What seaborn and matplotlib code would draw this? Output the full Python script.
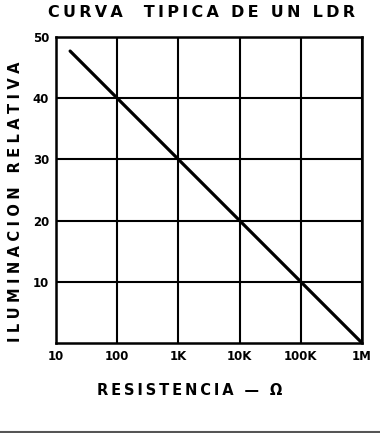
import matplotlib
matplotlib.use("Agg")
import matplotlib.pyplot as plt
import seaborn as sns
import pandas as pd
from matplotlib.lines import Line2D

# Data
resistance = [17, 100, 1000, 10000, 100000, 1000000]
illumination = [47.7, 40, 30, 20, 10, 0]
x_ticks = [10, 100, 1000, 10000, 100000, 1000000]
x_tick_labels = ["10", "100", "1K", "10K", "100K", "1M"]
y_ticks = [10, 20, 30, 40, 50]
y_tick_labels = ["10", "20", "30", "40", "50"]

title = "CURVA  TIPICA DE UN LDR"
xlabel = "RESISTENCIA — Ω"
ylabel = "ILUMINACION RELATIVA"

def spaced(s, sp="\u2009"):
    return sp.join(list(s))

sns.set_theme(style="white")
plt.rcParams['font.family'] = ['DejaVu Sans']
plt.rcParams['text.color'] = 'black'
plt.rcParams['xtick.color'] = 'black'
plt.rcParams['ytick.color'] = 'black'

fig = plt.figure(figsize=(3.8, 4.33), dpi=100)
ax = fig.add_axes([0.1474, 0.2079, 0.8053, 0.7067])

df = pd.DataFrame({"R": resistance, "L": illumination})
sns.lineplot(data=df, x="R", y="L", ax=ax, color="black", linewidth=2.3)

ax.set_xscale("log")
ax.set_xlim(10, 1000000)
ax.set_ylim(0, 50)
ax.set_xticks(x_ticks)
ax.set_xticklabels(x_tick_labels, fontsize=8.5, fontweight="bold", color="black")
ax.set_yticks(y_ticks)
ax.set_yticklabels(y_tick_labels, fontsize=8.5, fontweight="bold", color="black")
ax.xaxis.set_minor_locator(matplotlib.ticker.NullLocator())
ax.tick_params(axis="both", length=0, pad=5)
ax.grid(True, color="black", linewidth=1.5)
for s in ax.spines.values():
    s.set_visible(True)
    s.set_color("black")
    s.set_linewidth(1.8)
ax.set_xlabel("")
ax.set_ylabel("")

fig.text(0.53, 0.972, spaced(title), ha="center", va="center",
         fontsize=11.5, fontweight="bold", color="black")
fig.text(0.5, 0.099, spaced(xlabel), ha="center", va="center",
         fontsize=10.5, fontweight="bold", color="black")
fig.text(0.04, 0.535, spaced(ylabel, "\u2009\u200a"), ha="center", va="center",
         rotation=90, fontsize=10.5, fontweight="bold", color="black")

fig.add_artist(Line2D([0, 1], [0.003, 0.003], color="#555555", linewidth=1.5,
                      transform=fig.transFigure))

fig.savefig("out.png", dpi=100, facecolor="white")
